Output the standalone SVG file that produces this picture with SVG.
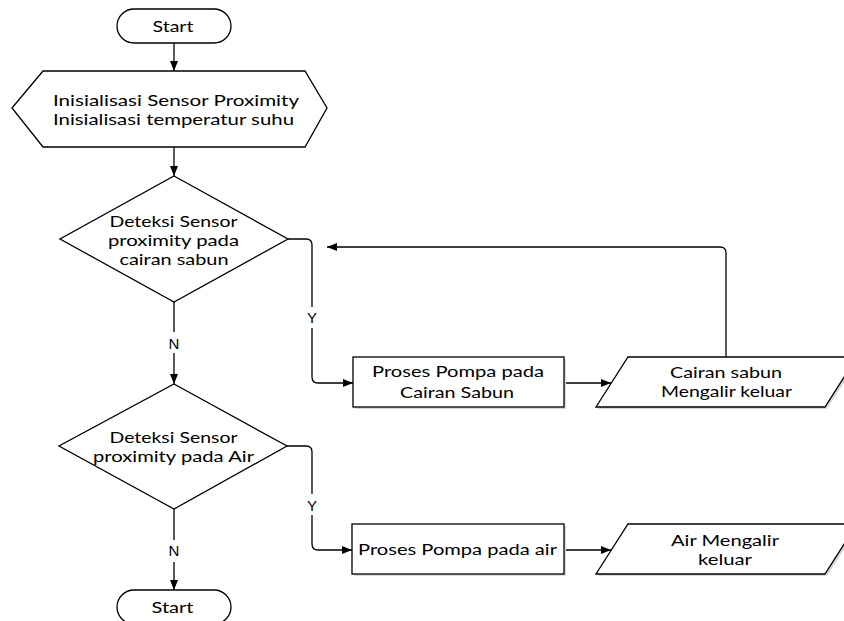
<svg xmlns="http://www.w3.org/2000/svg" width="844" height="621" viewBox="0 0 844 621">
<style>
.shape{fill:#fff;stroke:#000;stroke-width:1.3}
.shadow{fill:#d9d9d9;stroke:none}
.t{font-family:Lato,"Open Sans",sans-serif;font-size:15.8px;fill:#000;text-anchor:middle}
.lbl{font-family:"Liberation Sans",Arial,sans-serif;font-size:15px;fill:#000;text-anchor:middle}
.c{fill:none;stroke:#000;stroke-width:1.3}
</style>
<defs>
<marker id="ah" markerUnits="userSpaceOnUse" markerWidth="10" markerHeight="8" refX="10" refY="4" orient="auto">
<path d="M0,0 L10,4 L0,8 z" fill="#000"/>
</marker>
</defs>
<rect width="844" height="621" fill="#fff"/>

<g id="connectors">
<path class="c" d="M174,43 V71" marker-end="url(#ah)"/>
<path class="c" d="M174,147 V176" marker-end="url(#ah)"/>
<path class="c" d="M288,239 H306 Q312,239 312,245 V307"/>
<path class="c" d="M312,328 V377 Q312,383 318,383 H353" marker-end="url(#ah)"/>
<path class="c" d="M564,383 H611" marker-end="url(#ah)"/>
<path class="c" d="M726,357 V253 Q726,247 720,247 H327" marker-end="url(#ah)"/>
<path class="c" d="M174,302 V332"/>
<path class="c" d="M174,353 V384" marker-end="url(#ah)"/>
<path class="c" d="M287,446 H306 Q312,446 312,452 V494"/>
<path class="c" d="M312,515 V544 Q312,550 318,550 H352" marker-end="url(#ah)"/>
<path class="c" d="M564,550 H611" marker-end="url(#ah)"/>
<path class="c" d="M174,509 V540"/>
<path class="c" d="M174,562 V590" marker-end="url(#ah)"/>
<text class="lbl" x="312" y="323">Y</text>
<text class="lbl" x="174" y="348.5">N</text>
<text class="lbl" x="312" y="511">Y</text>
<text class="lbl" x="174" y="556">N</text>
</g>

<g id="start-top">
<rect class="shape" x="117" y="9" width="114" height="34" rx="17"/>
<text class="t" x="173" y="31.7" textLength="41" lengthAdjust="spacingAndGlyphs">Start</text>
</g>

<g id="init">
<polygon class="shape" points="12,108 43,71 305,71 327,108 305,147 43,147"/>
<text class="t" x="176" y="106" textLength="246" lengthAdjust="spacingAndGlyphs">Inisialisasi Sensor Proximity</text>
<text class="t" x="173.5" y="125" textLength="241" lengthAdjust="spacingAndGlyphs">Inisialisasi temperatur suhu</text>
</g>

<g id="decision-sabun">
<polygon class="shape" points="174,176 288,239 174,302 60,239"/>
<text class="t" x="173.5" y="227" textLength="128" lengthAdjust="spacingAndGlyphs">Deteksi Sensor</text>
<text class="t" x="173.5" y="246" textLength="131" lengthAdjust="spacingAndGlyphs">proximity pada</text>
<text class="t" x="174" y="265" textLength="109" lengthAdjust="spacingAndGlyphs">cairan sabun</text>
</g>

<g id="pompa-sabun">
<rect class="shadow" x="355" y="359" width="211" height="50"/>
<rect class="shape" x="353" y="357" width="211" height="50"/>
<text class="t" x="458" y="377" textLength="172" lengthAdjust="spacingAndGlyphs">Proses Pompa pada</text>
<text class="t" x="457" y="398" textLength="114" lengthAdjust="spacingAndGlyphs">Cairan Sabun</text>
</g>

<g id="output-sabun">
<polygon class="shadow" points="630,359 859,359 827,409 598,409"/>
<polygon class="shape" points="628,357 857,357 825,407 596,407"/>
<text class="t" x="726" y="378" textLength="112" lengthAdjust="spacingAndGlyphs">Cairan sabun</text>
<text class="t" x="726.5" y="397" textLength="131" lengthAdjust="spacingAndGlyphs">Mengalir keluar</text>
</g>

<g id="decision-air">
<polygon class="shape" points="174,384 287,446 174,509 59,446"/>
<text class="t" x="173.5" y="443" textLength="128" lengthAdjust="spacingAndGlyphs">Deteksi Sensor</text>
<text class="t" x="173.5" y="462" textLength="161" lengthAdjust="spacingAndGlyphs">proximity pada Air</text>
</g>

<g id="pompa-air">
<rect class="shadow" x="354" y="526" width="212" height="50"/>
<rect class="shape" x="352" y="524" width="212" height="50"/>
<text class="t" x="457.5" y="555" textLength="199" lengthAdjust="spacingAndGlyphs">Proses Pompa pada air</text>
</g>

<g id="output-air">
<polygon class="shadow" points="630,526 859,526 827,576 598,576"/>
<polygon class="shape" points="628,524 857,524 825,574 596,574"/>
<text class="t" x="725" y="546" textLength="108" lengthAdjust="spacingAndGlyphs">Air Mengalir</text>
<text class="t" x="725" y="565" textLength="54" lengthAdjust="spacingAndGlyphs">keluar</text>
</g>

<g id="start-bottom">
<rect class="shape" x="117" y="590" width="114" height="34" rx="17"/>
<text class="t" x="172.5" y="613" textLength="42" lengthAdjust="spacingAndGlyphs">Start</text>
</g>
</svg>
